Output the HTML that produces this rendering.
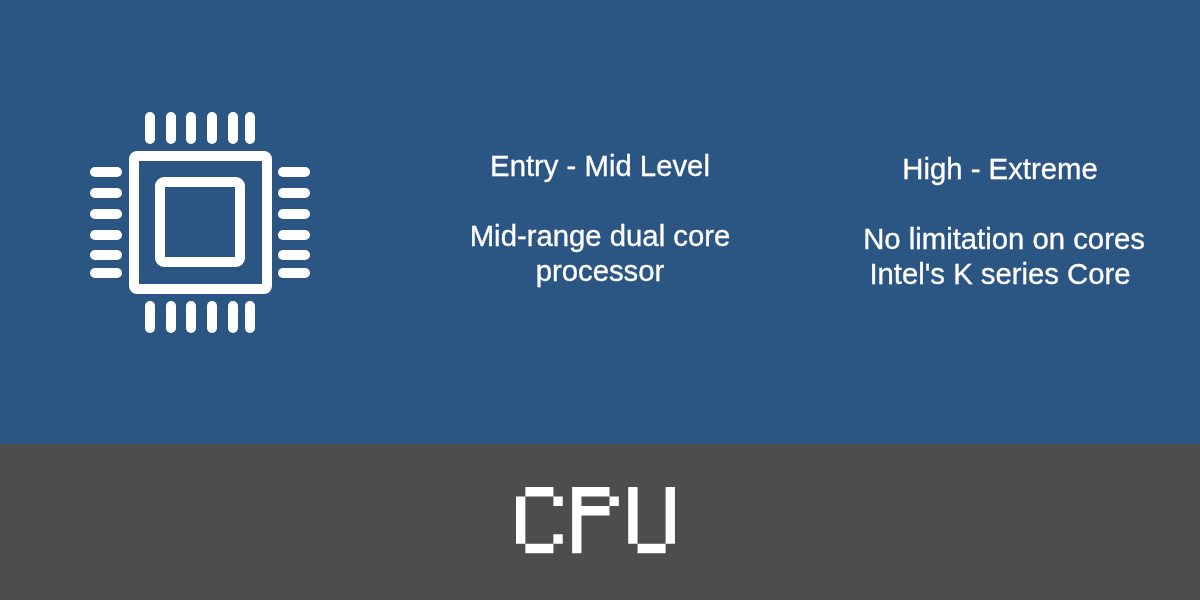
<!DOCTYPE html>
<html><head><meta charset="utf-8">
<style>
html,body{margin:0;padding:0;width:1200px;height:600px;overflow:hidden;}
body{position:relative;background:#2b5582;font-family:"Liberation Sans",sans-serif;color:#fff;}
.top{position:absolute;left:0;top:0;width:1200px;height:444px;background:#2b5582;}
.bot{position:absolute;left:0;top:444px;width:1200px;height:156px;background:#4d4d4e;}
.t{will-change:transform;position:absolute;white-space:nowrap;font-size:29.3px;line-height:34px;text-align:center;width:400px;-webkit-text-stroke:0.3px #fff;}
svg{position:absolute;left:0;top:0;}
</style></head><body>
<div class="top"></div>
<div class="bot"></div>
<svg width="400" height="444" viewBox="0 0 400 444">
<g fill="#fff">
<!-- top pins -->
<rect x="145" y="112" width="10" height="32" rx="5"/>
<rect x="166" y="112" width="10" height="32" rx="5"/>
<rect x="186" y="112" width="10" height="32" rx="5"/>
<rect x="207" y="112" width="10" height="32" rx="5"/>
<rect x="228" y="112" width="10" height="32" rx="5"/>
<rect x="245" y="112" width="10" height="32" rx="5"/>
<!-- bottom pins -->
<rect x="145" y="301" width="10" height="32" rx="5"/>
<rect x="166" y="301" width="10" height="32" rx="5"/>
<rect x="186" y="301" width="10" height="32" rx="5"/>
<rect x="207" y="301" width="10" height="32" rx="5"/>
<rect x="228" y="301" width="10" height="32" rx="5"/>
<rect x="245" y="301" width="10" height="32" rx="5"/>
<!-- left pins -->
<rect x="90" y="167" width="32" height="10" rx="5"/>
<rect x="90" y="188" width="32" height="10" rx="5"/>
<rect x="90" y="209" width="32" height="10" rx="5"/>
<rect x="90" y="230" width="32" height="10" rx="5"/>
<rect x="90" y="250" width="32" height="10" rx="5"/>
<rect x="90" y="268" width="32" height="10" rx="5"/>
<!-- right pins -->
<rect x="278" y="167" width="32" height="10" rx="5"/>
<rect x="278" y="188" width="32" height="10" rx="5"/>
<rect x="278" y="209" width="32" height="10" rx="5"/>
<rect x="278" y="230" width="32" height="10" rx="5"/>
<rect x="278" y="250" width="32" height="10" rx="5"/>
<rect x="278" y="268" width="32" height="10" rx="5"/>
</g>
<!-- outer square -->
<path fill="#fff" fill-rule="evenodd" d="M137 151H264A8 8 0 0 1 272 159V286A8 8 0 0 1 264 294H137A8 8 0 0 1 129 286V159A8 8 0 0 1 137 151Z M139 161V284H262V161Z"/>
<!-- inner square -->
<path fill="#fff" fill-rule="evenodd" d="M164 177H236A9 9 0 0 1 245 186V258A9 9 0 0 1 236 267H164A9 9 0 0 1 155 258V186A9 9 0 0 1 164 177Z M165 187V257H235V187Z"/>
</svg>
<div class="t" style="left:400px;top:149px;">Entry - Mid Level</div>
<div class="t" style="left:400px;top:219px;">Mid-range dual core</div>
<div class="t" style="left:400px;top:254px;">processor</div>
<div class="t" style="left:800px;top:152px;">High - Extreme</div>
<div class="t" style="left:804px;top:222px;">No limitation on cores</div>
<div class="t" style="left:800px;top:257px;">Intel's K series Core</div>
<svg width="1200" height="600" viewBox="0 0 1200 600">
<g fill="#fff" transform="translate(516 487) scale(9.35 9.47)">
<path d="M1 0H4V1H1Z M0 1H1V6H0Z M4 1H5V2H4Z M4 5H5V6H4Z M1 6H4V7H1Z"/>
<path d="M6 0H10V1H7V2H10V3H7V7H6Z M10 1H11V2H10Z"/>
<path d="M12 0H13V6H16V0H17V6H16V7H13V6H12Z"/>
</g>
</svg>
</body></html>
